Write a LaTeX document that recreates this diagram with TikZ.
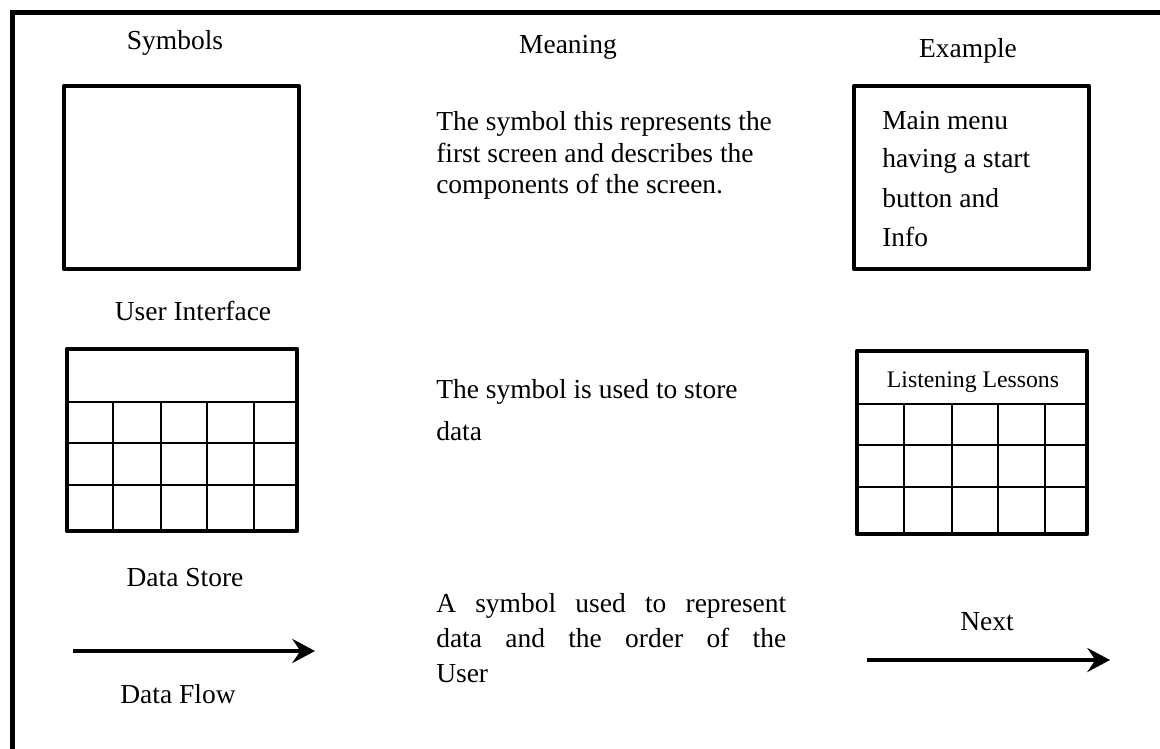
\documentclass[tikz,border=0pt]{standalone}
\usepackage{fontspec}
\setmainfont{Liberation Serif}
\usetikzlibrary{arrows.meta}
\begin{document}
\begin{tikzpicture}[x=0.75pt,y=-0.75pt,
  txt/.style={inner sep=0pt,anchor=base,font=\fontsize{20.6}{26}\selectfont},
  txtl/.style={txt,anchor=base west},
  small/.style={inner sep=0pt,anchor=base,font=\fontsize{17.8}{20}\selectfont},
  frame/.style={draw,line width=3.8pt},
  box/.style={draw,line width=3.6pt,line join=round},
  grid/.style={line width=2.2pt},
  flow/.style={line width=3pt,-{Stealth[length=17pt,width=18pt,inset=6pt]}}]
\useasboundingbox (0,0) rectangle (1160,749);
\clip (0,0) rectangle (1160,749);

% outer frame (runs off the page on the right and bottom)
\draw[frame] (12.5,12.5) rectangle (1200,800);

% column headings
\node[txt] (hsym) at (175,50) {Symbols};
\node[txt] (hmean) at (568,54) {Meaning};
\node[txt] (hex) at (968,58) {Example};

% ---- row 1: user interface ----
\node[box,minimum width=235*0.75pt,minimum height=183*0.75pt,inner sep=0pt] (ui) at (181.5,177.5) {};
\node[txt] (uilabel) at (193,320) {User Interface};

\node[txtl] (m1a) at (436,130) {The symbol this represents the};
\node[txtl] (m1b) at (436,162) {first screen and describes the};
\node[txtl] (m1c) at (436,193) {components of the screen.};

\node[box,minimum width=235*0.75pt,minimum height=183*0.75pt,inner sep=0pt] (uiex) at (971.5,177.5) {};
\node[txtl] (e1a) at (882,129) {Main menu};
\node[txtl] (e1b) at (882,167) {having a start};
\node[txtl] (e1c) at (882,207) {button and};
\node[txtl] (e1d) at (882,246) {Info};

% ---- row 2: data store ----
\draw[grid] (67,402) -- (297,402);
\draw[grid] (67,443) -- (297,443);
\draw[grid] (67,485) -- (297,485);
\foreach \cx in {113,161,207,254} \draw[grid] (\cx,402) -- (\cx,531);
\draw[box] (67,349) rectangle (297,531);
\node[txt] (dslabel) at (185,586) {Data Store};

\node[txtl] (m2a) at (436,398) {The symbol is used to store};
\node[txtl] (m2b) at (436,440) {data};

\draw[grid] (857,404) -- (1087,404);
\draw[grid] (857,445) -- (1087,445);
\draw[grid] (857,487) -- (1087,487);
\foreach \cx in {904,952,998,1045} \draw[grid] (\cx,404) -- (\cx,534);
\draw[box] (857,351) rectangle (1087,534);
\node[small] (dsex) at (973,387) {Listening Lessons};

% ---- row 3: data flow ----
\coordinate (df1) at (73,651);
\coordinate (df2) at (315,651);
\draw[flow] (df1) -- (df2);
\node[txt] (dflabel) at (178,703) {Data Flow};

\node[txtl] (m3a) at (436,612) {\makebox[262.5pt][s]{A symbol used to represent}};
\node[txtl] (m3b) at (436,647) {\makebox[262.5pt][s]{data and the order of the}};
\node[txtl] (m3c) at (436,682) {User};

\coordinate (nx1) at (867,660);
\coordinate (nx2) at (1110,660);
\draw[flow] (nx1) -- (nx2);
\node[txt] (nxlabel) at (987,630) {Next};
\end{tikzpicture}
\end{document}
